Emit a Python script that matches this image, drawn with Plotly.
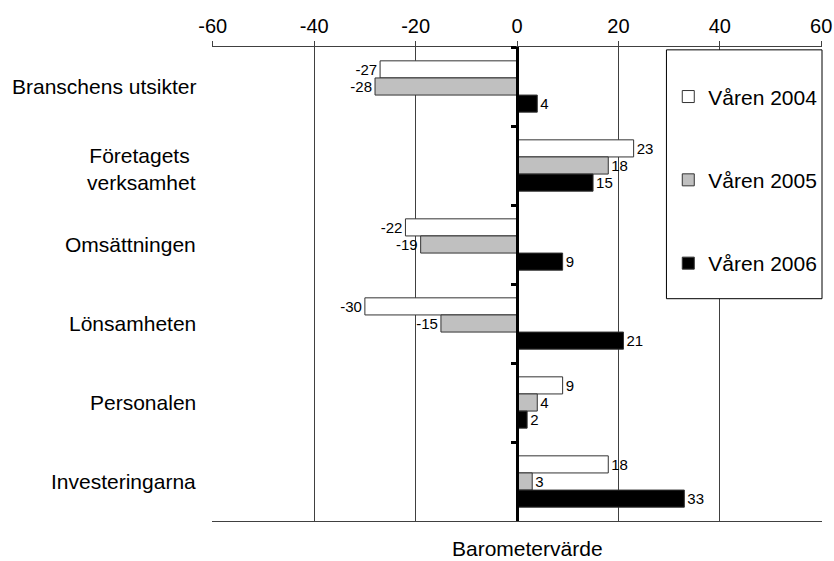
import plotly.graph_objects as go

categories = ["Branschens utsikter", "Företagets <br>verksamhet", "Omsättningen",
              "Lönsamheten", "Personalen", "Investeringarna"]
series_names = ["Våren 2004", "Våren 2005", "Våren 2006"]
v2004 = [-27, 23, -22, -30, 9, 18]
v2005 = [-28, 18, -19, -15, 4, 3]
v2006 = [4, 15, 9, 21, 2, 33]
x_ticks = [-60, -40, -20, 0, 20, 40, 60]
x_tick_text = ["-60", "-40", "-20", "0", "20", "40", "60"]

fills = ["#ffffff", "#c0c0c0", "#000000"]
font = "Liberation Sans, Arial, sans-serif"

fig = go.Figure()
for name, vals, col in zip(series_names, [v2004, v2005, v2006], fills):
    fig.add_trace(go.Bar(
        y=categories, x=vals, orientation="h", name=name,
        marker=dict(color=col, line=dict(color="#333333", width=1)),
        text=[str(v) for v in vals], textposition="outside",
        textfont=dict(size=15, color="black", family=font),
        constraintext="none", cliponaxis=False, legendgroup=name,
    ))

for c in categories:
    fig.add_annotation(x=0, xref="paper", y=c, yref="y", text=c, showarrow=False,
                       xanchor="right", align="right", xshift=-14,
                       yshift=-3 if "<br>" in c else 0,
                       font=dict(size=21, color="black", family=font))

fig.add_annotation(x=0.5, xref="paper", y=-0.057, yref="paper", text="Barometervärde",
                   showarrow=False, xanchor="center", yanchor="middle", xshift=10,
                   font=dict(size=21, color="black", family=font))

fig.add_shape(type="rect", xref="paper", yref="paper", x0=0.745, x1=1.0, y0=0.469, y1=0.994,
              line=dict(color="black", width=1), fillcolor="white", layer="above")

fig.update_layout(
    width=834, height=561,
    margin=dict(l=212, r=12, t=47, b=40, autoexpand=False),
    plot_bgcolor="white", paper_bgcolor="white",
    barmode="group", bargap=0.35, bargroupgap=0,
    font=dict(family=font, size=21, color="black"),
    showlegend=True,
    legend=dict(x=0.748, y=0.938, xanchor="left", yanchor="top",
                bgcolor="rgba(0,0,0,0)", borderwidth=0, tracegroupgap=53,
                font=dict(size=21, family=font), traceorder="grouped"),
    xaxis=dict(range=[-60.15, 60.15], tickvals=x_ticks, ticktext=x_tick_text, side="top",
               ticks="outside", ticklen=5, tickcolor="#404040", showline=True,
               linecolor="#404040", linewidth=1, mirror=True, showgrid=True,
               gridcolor="#404040", gridwidth=1, zeroline=False, tickfont=dict(size=20),
               automargin=False),
    yaxis=dict(autorange="reversed", showticklabels=False, anchor="free", position=0.5,
               showline=True, linecolor="black", linewidth=2.5, ticks="outside",
               tickson="boundaries", ticklen=5, tickwidth=2.5, tickcolor="black",
               showgrid=False, zeroline=False, automargin=False),
)

fig.write_html("out.html")
